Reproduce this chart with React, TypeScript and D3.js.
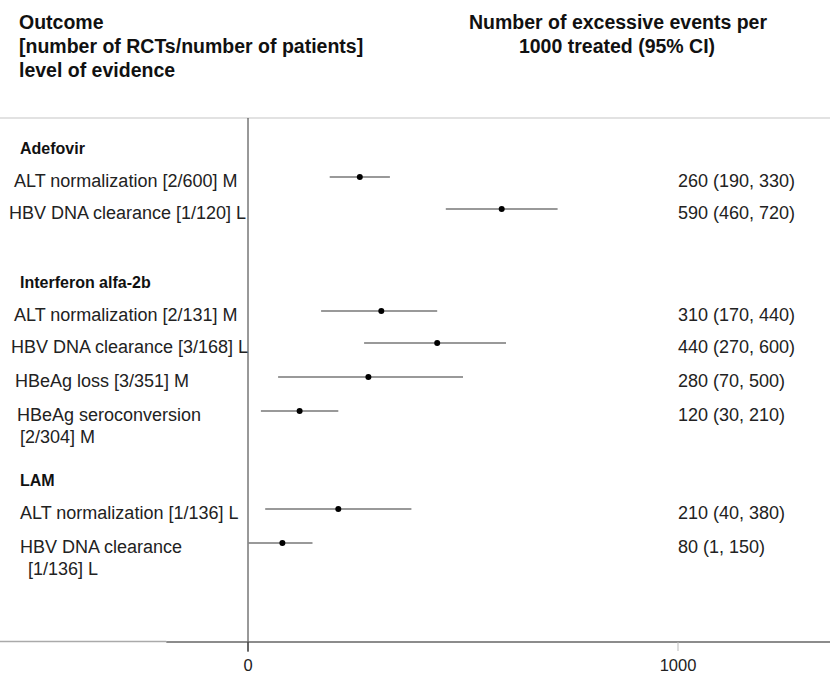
import React from "react";
import * as d3 from "d3";

// Forest-style table: excess events per 1000 treated with 95% CI
const groupNames = ["Adefovir", "Interferon alfa-2b", "LAM"];
const rowGroup = [0, 0, 1, 1, 1, 1, 2, 2];
const rowLabels = [
  ["ALT normalization [2/600] M"],
  ["HBV DNA clearance [1/120] L"],
  ["ALT normalization [2/131] M"],
  ["HBV DNA clearance [3/168] L"],
  ["HBeAg loss [3/351] M"],
  ["HBeAg seroconversion", "[2/304] M"],
  ["ALT normalization [1/136] L"],
  ["HBV DNA clearance", " [1/136] L"],
];
const estimates = [260, 590, 310, 440, 280, 120, 210, 80];
const lowerCI = [190, 460, 170, 270, 70, 30, 40, 1];
const upperCI = [330, 720, 440, 600, 500, 210, 380, 150];
const tickValues = [0, 1000];

const W = 830;
const H = 674;
const FONT = "'Liberation Sans', Arial, sans-serif";

// row label vertical positions (text centres) and x offsets
const groupY = [148, 282, 480];
const groupX = [20, 20, 20];
const rowY = [181, 213, 315, 347, 381, 415, 513, 547];
const rowX = [14, 9, 14, 11, 15, 17, 20, 20];
const markOffset = -4;

export default function App() {
  const x = d3.scaleLinear().domain([0, 1000]).range([248, 678]);
  const plotTop = 118;
  const axisY = 642;

  return (
    <svg width={W} height={H} style={{ display: "block", position: "absolute", left: 0, top: 0 }}>
      <rect width={W} height={H} fill="#fff" />
      <g fontFamily={FONT} fontWeight="bold" fontSize={19.5} fill="#111">
        <text x={19} y={22} dominantBaseline="central">Outcome</text>
        <text x={19} y={46} dominantBaseline="central">[number of RCTs/number of patients]</text>
        <text x={19} y={70} dominantBaseline="central">level of evidence</text>
        <text x={618} y={22} textAnchor="middle" dominantBaseline="central">Number of excessive events per</text>
        <text x={617} y={46} textAnchor="middle" dominantBaseline="central">1000 treated (95% CI)</text>
      </g>

      {/* separator under header */}
      <line x1={0} x2={W} y1={plotTop} y2={plotTop} stroke="#d8d8d8" strokeWidth={1.5} />

      {/* null line */}
      <line x1={x(0)} x2={x(0)} y1={plotTop} y2={axisY + 10} stroke="#333" strokeWidth={1} />

      {/* axis */}
      <line x1={0} x2={x(-190)} y1={axisY - 0.5} y2={axisY - 0.5} stroke="#aaa" strokeWidth={1.5} />
      <line x1={x(-190)} x2={W} y1={axisY} y2={axisY} stroke="#666" strokeWidth={1.5} />
      {tickValues.map((t) => (
        <g key={t}>
          <line x1={x(t)} x2={x(t)} y1={axisY} y2={axisY + 9} stroke={t === 0 ? "#333" : "#bbb"} strokeWidth={1} />
          <text x={x(t)} y={axisY + 23} textAnchor="middle" dominantBaseline="central" fontFamily={FONT} fontSize={16.5} fill="#222">
            {d3.format("d")(t)}
          </text>
        </g>
      ))}

      {/* group headers */}
      {groupNames.map((g, i) => (
        <text key={g} x={groupX[i]} y={groupY[i]} dominantBaseline="central" fontFamily={FONT} fontWeight="bold" fontSize={16} fill="#111">
          {g}
        </text>
      ))}

      {/* rows */}
      {rowLabels.map((lines, i) => (
        <g key={i}>
          {lines.map((l, j) => (
            <text key={j} x={rowX[i] + (j > 0 ? 3 : 0)} y={rowY[i] + j * 22} dominantBaseline="central" fontFamily={FONT} fontSize={18} fill="#222" style={{ whiteSpace: "pre" }}>
              {l}
            </text>
          ))}
          <line x1={x(lowerCI[i])} x2={x(upperCI[i])} y1={rowY[i] + markOffset} y2={rowY[i] + markOffset} stroke="#777" strokeWidth={1.6} />
          <circle cx={x(estimates[i])} cy={rowY[i] + markOffset} r={3} fill="#000" />
          <text x={678} y={rowY[i]} dominantBaseline="central" fontFamily={FONT} fontSize={18} fill="#222">
            {`${estimates[i]} (${lowerCI[i]}, ${upperCI[i]})`}
          </text>
        </g>
      ))}
    </svg>
  );
}
